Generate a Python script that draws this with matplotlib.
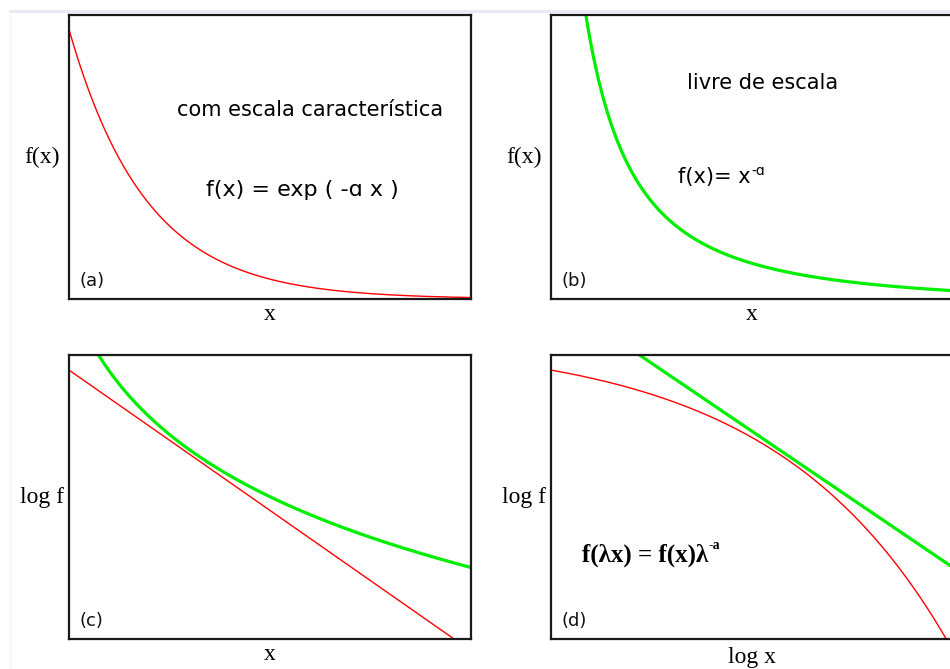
import numpy as np
import matplotlib
matplotlib.use('Agg')
import matplotlib.pyplot as plt
from matplotlib.lines import Line2D

# shared x window for all four sketches
x_min, x_max = 1.0, 10.0
x = np.linspace(x_min, x_max, 500)

# f(x) = exp(-a x)
rate = 0.58
# f(x) = x^-a (linear sketch) and c * x^-a (log sketches)
alpha_lin = 1.7
alpha_log = 2.2
log_c = 0.815

# axis windows
ylim_exp = (0.0, 0.59)
ylim_pow = (0.0092, 0.375)
ylim_log = (-5.58, -0.30)

panel_tags = ['(a)', '(b)', '(c)', '(d)']
y_labels = ['f(x)', 'f(x)', 'log f', 'log f']
x_labels = ['x', 'x', 'x', 'log x']

RED = '#ff0000'
GREEN = '#00ee00'
SERIF = 'Liberation Serif'
SANS = 'DejaVu Sans'

f_exp = np.exp(-rate * x)
f_pow = x ** -alpha_lin
logf_exp = -rate * x
logf_pow = log_c - alpha_log * np.log(x)

fig = plt.figure(figsize=(9.5, 6.69), dpi=100)
fig.patch.set_facecolor('white')

W, H = 950.0, 669.0
def add_panel(left, top):
    # pixel box -> figure fraction
    return fig.add_axes([left / W, 1 - (top + 284) / H, 402 / W, 284 / H])

ax_a = add_panel(69, 15)
ax_b = add_panel(551, 15)
ax_c = add_panel(69, 355)
ax_d = add_panel(551, 355)
axes = [ax_a, ax_b, ax_c, ax_d]

# (a) exponential, linear axes
ax_a.plot(x, f_exp, color=RED, lw=1.0)
ax_a.set_xlim(x_min, x_max)
ax_a.set_ylim(*ylim_exp)

# (b) power law, linear axes
ax_b.plot(x, f_pow, color=GREEN, lw=2.3)
ax_b.set_xlim(x_min, x_max)
ax_b.set_ylim(*ylim_pow)

# (c) log f against x
ax_c.plot(x, logf_exp, color=RED, lw=1.0)
ax_c.plot(x, logf_pow, color=GREEN, lw=2.3)
ax_c.set_xlim(x_min, x_max)
ax_c.set_ylim(*ylim_log)

# (d) log f against log x
ax_d.plot(np.log(x), logf_exp, color=RED, lw=1.0)
ax_d.plot(np.log(x), logf_pow, color=GREEN, lw=2.3)
ax_d.set_xlim(np.log(x_min), np.log(x_max))
ax_d.set_ylim(*ylim_log)

for ax, tag, yl, xl in zip(axes, panel_tags, y_labels, x_labels):
    ax.set_xticks([])
    ax.set_yticks([])
    for sp in ax.spines.values():
        sp.set_linewidth(1.6)
        sp.set_color('#1a1a1a')
    ax.text(0.027, 0.065, tag, transform=ax.transAxes, fontsize=13,
            family=SANS, va='center', ha='left', color='#111111')
    ax.text(-0.068, 0.5, yl, transform=ax.transAxes, fontsize=17,
            family=SERIF, va='center', ha='center')
    ax.text(0.5, -0.055 if xl == 'x' else -0.065, xl, transform=ax.transAxes,
            fontsize=17, family=SERIF, va='center', ha='center')

ax_a.text(0.6, 0.665, 'com escala característica', transform=ax_a.transAxes,
          fontsize=15, family=SANS, va='center', ha='center')
ax_a.text(0.58, 0.384, 'f(x) = exp ( -ɑ x )', transform=ax_a.transAxes,
          fontsize=16, family=SANS, va='center', ha='center')

ax_b.text(0.527, 0.76, 'livre de escala', transform=ax_b.transAxes,
          fontsize=15, family=SANS, va='center', ha='center')
t_b = ax_b.text(0.316, 0.43, 'f(x)= x', transform=ax_b.transAxes,
                fontsize=15, family=SANS, va='center', ha='left')
ax_b.annotate('-ɑ', xy=(1, 1), xycoords=t_b, xytext=(0.5, 2),
              textcoords='offset points', fontsize=10, family=SANS,
              va='top', ha='left')

t_d = ax_d.text(0.077, 0.296, 'f(λx) = f(x)λ', transform=ax_d.transAxes,
                fontsize=18, family=SERIF, weight='bold', va='center', ha='left')
ax_d.annotate('-a', xy=(1, 1), xycoords=t_d, xytext=(0.5, 3),
              textcoords='offset points', fontsize=10, family=SERIF,
              weight='bold', va='top', ha='left')

# faint page edge along the top and left
fig.add_artist(Line2D([10 / W, 1], [1 - 11 / H, 1 - 11 / H], color='#ebe6f6', lw=2))
fig.add_artist(Line2D([10 / W, 10 / W], [0, 1 - 11 / H], color='#f6f2f6', lw=1))

fig.savefig('out.png', dpi=100, facecolor='white')
